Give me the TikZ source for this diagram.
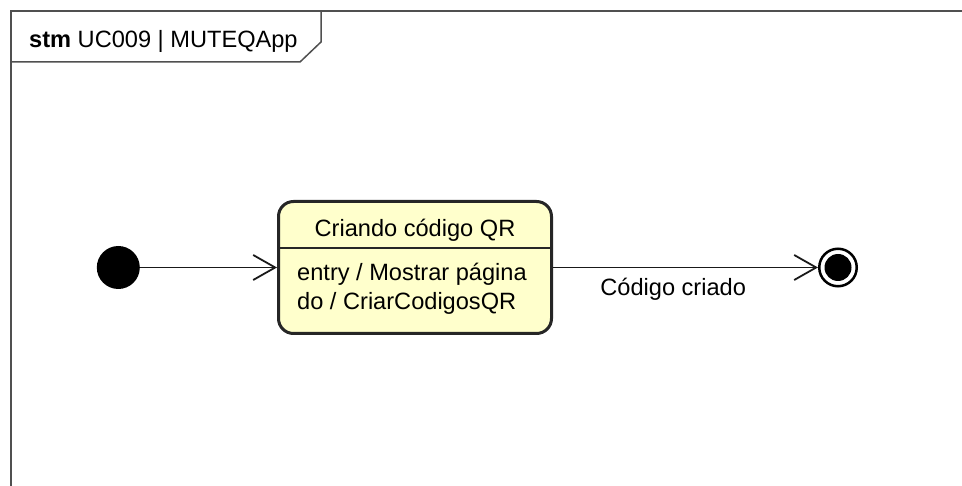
\documentclass[tikz,border=0pt]{standalone}
\usepackage{fontspec}
\setmainfont{Liberation Sans}
\definecolor{statefill}{RGB}{255, 255, 204}
\definecolor{frameline}{RGB}{80, 80, 80}
\usetikzlibrary{arrows.meta, positioning}
\tikzset{
	frame/.style={draw=frameline, line width=1.5pt},
	diagtext/.style={inner sep=0pt, font=\fontsize{23.6}{29}\selectfont},
	statebox/.style={rectangle, rounded corners=15pt, draw=black!85, fill=statefill, line width=3pt, minimum width=273pt, minimum height=132pt, inner sep=0pt},
	divider/.style={draw=black!85, line width=1.5pt},
	initial/.style={circle, fill=black, minimum size=43pt, inner sep=0pt},
	final/.style={circle, draw=black, fill=white, line width=2.5pt, minimum size=37.5pt, inner sep=0pt, path picture={\fill[black] (path picture bounding box.center) circle (13.5pt);}},
	transition/.style={-{Straight Barb[length=22pt, width=25pt]}, line width=1.8pt, draw=black!90},
}
\begin{document}
\begin{tikzpicture}[x=1pt, y=-1pt]
		\useasboundingbox (0,0) rectangle (962,486);
		% diagram frame with name tab
		\draw[frame] (11,486) -- (11,11) -- (962,11);
		\draw[frame] (11,62) -- (300,62) -- (321,42) -- (321,11);
		\node[diagtext, anchor=base west] (tab) at (29,48) {\textbf{stm} UC009 | MUTEQApp};
		% state
		\node[statebox] (state) at (415,267.5) {};
		\draw[divider] (state.west |- 0,248) -- (state.east |- 0,248);
		\node[diagtext, anchor=base] (title) at (415,237) {Criando código QR};
		\node[diagtext, anchor=base west, align=left] (body) at (297,310) {entry / Mostrar página\\do / CriarCodigosQR};
		% pseudo states
		\node[initial, left=137pt of state] (init) {};
		\node[final, right=265pt of state] (done) {};
		\draw[transition] (init) -- (state);
		\draw[transition] (state) -- (done) node[diagtext, pos=0.4536, anchor=base, yshift=-28pt] (lbl) {Código criado};
	\end{tikzpicture}
\end{document}
